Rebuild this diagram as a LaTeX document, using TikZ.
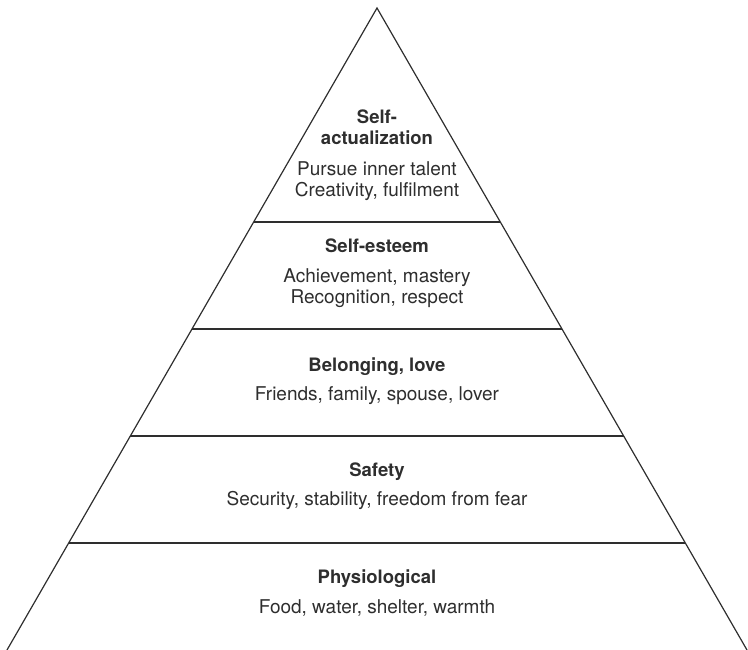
\documentclass[tikz,border=0pt]{standalone}
\usepackage{fontspec}
\setmainfont{TeX Gyre Heros}
\usetikzlibrary{positioning,calc}
\definecolor{INK}{HTML}{2E2E2E}
\tikzset{TIER/.style={line width=1.2pt, draw=INK, line join=miter}}
\tikzset{TITLE/.style={font=\fontsize{18.5}{21.3}\selectfont\bfseries, text=INK, align=center, anchor=base, inner sep=0pt}}
\tikzset{BODY/.style={font=\fontsize{19}{21.3}\selectfont, text=INK, align=center, anchor=base, inner sep=0pt}}

\begin{document}
\begin{tikzpicture}[x=1pt,y=-1pt]
    \useasboundingbox (0,0) rectangle (748,650);

    \coordinate (apex) at (377,8);
    \coordinate (base_left) at (7,650);
    \coordinate (base_right) at (747,650);
    \draw[TIER] (base_left) -- (apex) -- (base_right);
    \foreach \k in {2,...,5}
        \draw[TIER] ($(apex)!\k/6!(base_left)$) -- ($(apex)!\k/6!(base_right)$);

    % base of a two-line node = baseline of its last line
    \node[TITLE] (t_actual) at (377,145) {Self-\\actualization};
    \node[BODY] (b_actual) at ($(t_actual.base)+(0,52)$) {Pursue inner talent\\Creativity, fulfilment};

    \node[TITLE] (t_esteem) at (377,252.7) {Self-esteem};
    \node[BODY] (b_esteem) at ($(t_esteem.base)+(0,51.3)$) {Achievement, mastery\\Recognition, respect};

    \node[TITLE] (t_love) at (377,371) {Belonging, love};
    \node[BODY] (b_love) at ($(t_love.base)+(0,29)$) {Friends, family, spouse, lover};

    \node[TITLE] (t_safety) at (377,476.5) {Safety};
    \node[BODY] (b_safety) at ($(t_safety.base)+(0,29)$) {Security, stability, freedom from fear};

    \node[TITLE] (t_physio) at (377,583.5) {Physiological};
    \node[BODY] (b_physio) at ($(t_physio.base)+(0,29.5)$) {Food, water, shelter, warmth};
\end{tikzpicture}
\end{document}
